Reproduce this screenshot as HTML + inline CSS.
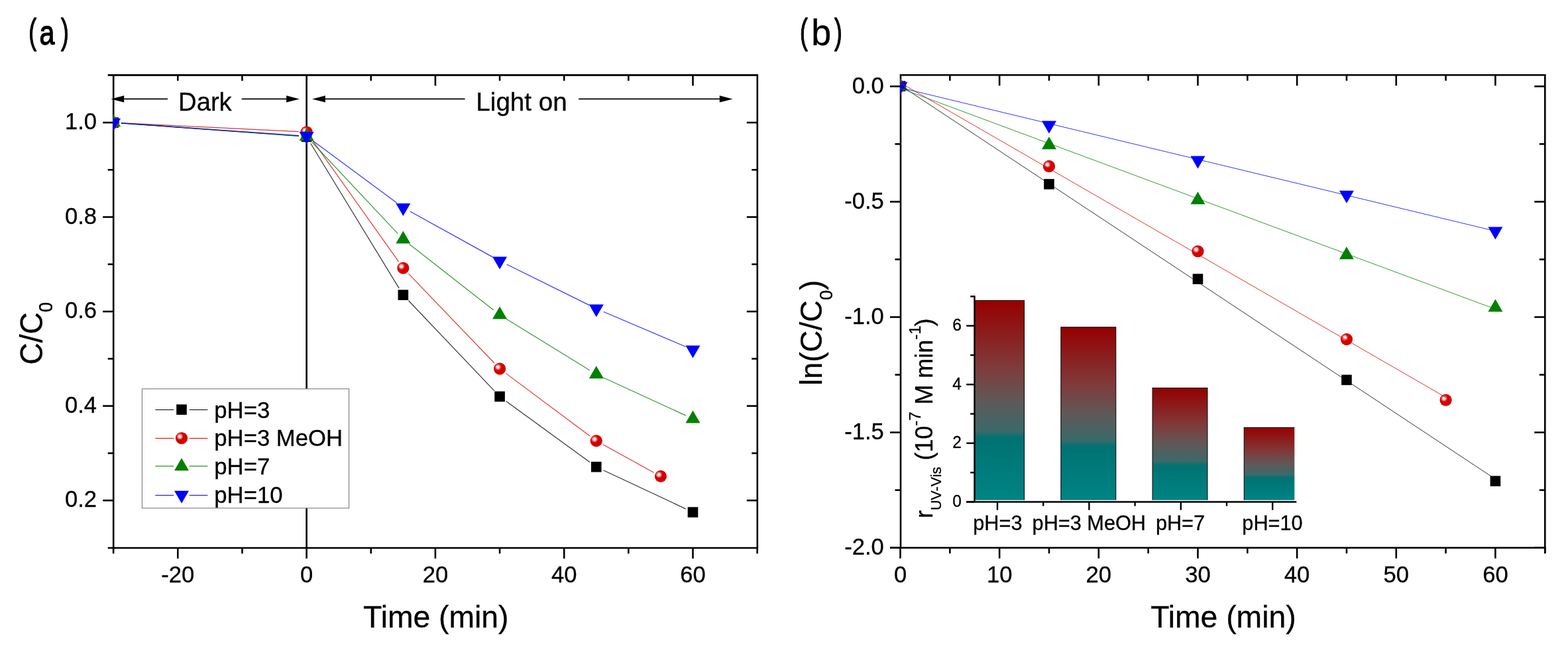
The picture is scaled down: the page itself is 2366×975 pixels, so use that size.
<!DOCTYPE html>
<html lang="en">
<head>
<meta charset="utf-8">
<title>Photocatalytic degradation kinetics at different pH</title>
<style>
html,body{margin:0;padding:0;background:#fff;}
body{width:2366px;height:975px;overflow:hidden;}
svg{display:block;}
svg text{font-family:"Liberation Sans", sans-serif;fill:#000;stroke:#000;stroke-width:0.3px;}
</style>
</head>
<body>
<svg width="2366" height="975" viewBox="0 0 2366 975">
<defs>
<radialGradient id="ball" cx="0.355" cy="0.36" r="0.29" fx="0.355" fy="0.36">
<stop offset="0" stop-color="#ffffff"/>
<stop offset="0.22" stop-color="#fff4f4"/>
<stop offset="0.6" stop-color="#ee8080"/>
<stop offset="1" stop-color="#d40000"/>
</radialGradient>
<linearGradient id="bar" x1="0" y1="0" x2="0" y2="1">
<stop offset="0" stop-color="#960000"/>
<stop offset="0.33" stop-color="#803a3a"/>
<stop offset="0.5" stop-color="#605858"/>
<stop offset="0.655" stop-color="#3a6a6a"/>
<stop offset="0.69" stop-color="#007272"/>
<stop offset="1" stop-color="#008484"/>
</linearGradient>
<clipPath id="clipA"><rect x="170.6" y="113.4" width="972.1999999999999" height="713.6"/></clipPath>
<clipPath id="clipB"><rect x="1358.4" y="113.3" width="972.9000000000002" height="713.5"/></clipPath>
<clipPath id="clipI"><rect x="1470.5" y="440" width="482.8" height="320"/></clipPath>
</defs>
<rect width="2366" height="975" fill="#fff"/>
<line x1="462.60" y1="113.40" x2="462.60" y2="827.00" stroke="#000" stroke-width="2.6" />
<line x1="171.20" y1="113.40" x2="171.20" y2="827.00" stroke="#000" stroke-width="2.6" />
<line x1="1142.80" y1="113.40" x2="1142.80" y2="827.00" stroke="#000" stroke-width="2.6" />
<line x1="162.70" y1="113.40" x2="1144.10" y2="113.40" stroke="#000" stroke-width="2.6" />
<line x1="162.70" y1="827.00" x2="1144.10" y2="827.00" stroke="#000" stroke-width="2.6" />
<line x1="171.15" y1="827.00" x2="171.15" y2="835.50" stroke="#000" stroke-width="2.6" />
<line x1="268.30" y1="827.00" x2="268.30" y2="843.00" stroke="#000" stroke-width="2.6" />
<text transform="translate(268.30,879.40) scale(1.0,1.04)" font-size="34.6" text-anchor="middle">-20</text>
<line x1="365.45" y1="827.00" x2="365.45" y2="835.50" stroke="#000" stroke-width="2.6" />
<line x1="462.60" y1="827.00" x2="462.60" y2="843.00" stroke="#000" stroke-width="2.6" />
<text transform="translate(462.60,879.40) scale(1.0,1.04)" font-size="34.6" text-anchor="middle">0</text>
<line x1="559.75" y1="827.00" x2="559.75" y2="835.50" stroke="#000" stroke-width="2.6" />
<line x1="656.90" y1="827.00" x2="656.90" y2="843.00" stroke="#000" stroke-width="2.6" />
<text transform="translate(656.90,879.40) scale(1.0,1.04)" font-size="34.6" text-anchor="middle">20</text>
<line x1="754.05" y1="827.00" x2="754.05" y2="835.50" stroke="#000" stroke-width="2.6" />
<line x1="851.20" y1="827.00" x2="851.20" y2="843.00" stroke="#000" stroke-width="2.6" />
<text transform="translate(851.20,879.40) scale(1.0,1.04)" font-size="34.6" text-anchor="middle">40</text>
<line x1="948.35" y1="827.00" x2="948.35" y2="835.50" stroke="#000" stroke-width="2.6" />
<line x1="1045.50" y1="827.00" x2="1045.50" y2="843.00" stroke="#000" stroke-width="2.6" />
<text transform="translate(1045.50,879.40) scale(1.0,1.04)" font-size="34.6" text-anchor="middle">60</text>
<line x1="1142.65" y1="827.00" x2="1142.65" y2="835.50" stroke="#000" stroke-width="2.6" />
<line x1="268.30" y1="113.40" x2="268.30" y2="121.90" stroke="#000" stroke-width="2.6" />
<line x1="365.45" y1="113.40" x2="365.45" y2="121.90" stroke="#000" stroke-width="2.6" />
<line x1="559.75" y1="113.40" x2="559.75" y2="121.90" stroke="#000" stroke-width="2.6" />
<line x1="656.90" y1="113.40" x2="656.90" y2="129.40" stroke="#000" stroke-width="2.6" />
<line x1="754.05" y1="113.40" x2="754.05" y2="121.90" stroke="#000" stroke-width="2.6" />
<line x1="851.20" y1="113.40" x2="851.20" y2="121.90" stroke="#000" stroke-width="2.6" />
<line x1="948.35" y1="113.40" x2="948.35" y2="121.90" stroke="#000" stroke-width="2.6" />
<line x1="1045.50" y1="113.40" x2="1045.50" y2="129.40" stroke="#000" stroke-width="2.6" />
<line x1="155.20" y1="755.30" x2="171.20" y2="755.30" stroke="#000" stroke-width="2.6" />
<line x1="1126.80" y1="755.30" x2="1142.80" y2="755.30" stroke="#000" stroke-width="2.6" />
<text transform="translate(146.00,765.30) scale(1.0,1.04)" font-size="34.6" text-anchor="end">0.2</text>
<line x1="162.70" y1="684.01" x2="171.20" y2="684.01" stroke="#000" stroke-width="2.6" />
<line x1="1134.30" y1="684.01" x2="1142.80" y2="684.01" stroke="#000" stroke-width="2.6" />
<line x1="155.20" y1="612.72" x2="171.20" y2="612.72" stroke="#000" stroke-width="2.6" />
<line x1="1126.80" y1="612.72" x2="1142.80" y2="612.72" stroke="#000" stroke-width="2.6" />
<text transform="translate(146.00,622.72) scale(1.0,1.04)" font-size="34.6" text-anchor="end">0.4</text>
<line x1="162.70" y1="541.44" x2="171.20" y2="541.44" stroke="#000" stroke-width="2.6" />
<line x1="1134.30" y1="541.44" x2="1142.80" y2="541.44" stroke="#000" stroke-width="2.6" />
<line x1="155.20" y1="470.15" x2="171.20" y2="470.15" stroke="#000" stroke-width="2.6" />
<line x1="1126.80" y1="470.15" x2="1142.80" y2="470.15" stroke="#000" stroke-width="2.6" />
<text transform="translate(146.00,480.15) scale(1.0,1.04)" font-size="34.6" text-anchor="end">0.6</text>
<line x1="162.70" y1="398.86" x2="171.20" y2="398.86" stroke="#000" stroke-width="2.6" />
<line x1="1134.30" y1="398.86" x2="1142.80" y2="398.86" stroke="#000" stroke-width="2.6" />
<line x1="155.20" y1="327.57" x2="171.20" y2="327.57" stroke="#000" stroke-width="2.6" />
<line x1="1126.80" y1="327.57" x2="1142.80" y2="327.57" stroke="#000" stroke-width="2.6" />
<text transform="translate(146.00,337.57) scale(1.0,1.04)" font-size="34.6" text-anchor="end">0.8</text>
<line x1="162.70" y1="256.29" x2="171.20" y2="256.29" stroke="#000" stroke-width="2.6" />
<line x1="1134.30" y1="256.29" x2="1142.80" y2="256.29" stroke="#000" stroke-width="2.6" />
<line x1="155.20" y1="185.00" x2="171.20" y2="185.00" stroke="#000" stroke-width="2.6" />
<line x1="1126.80" y1="185.00" x2="1142.80" y2="185.00" stroke="#000" stroke-width="2.6" />
<text transform="translate(146.00,195.00) scale(1.0,1.04)" font-size="34.6" text-anchor="end">1.0</text>
<g clip-path="url(#clipA)">
<line x1="182.92" y1="185.86" x2="450.83" y2="205.52" stroke="#000000" stroke-width="1.2" stroke-opacity="0.8"/>
<line x1="468.75" y1="216.46" x2="602.18" y2="435.13" stroke="#000000" stroke-width="1.2" stroke-opacity="0.8"/>
<line x1="616.46" y1="453.75" x2="745.92" y2="589.92" stroke="#000000" stroke-width="1.2" stroke-opacity="0.8"/>
<line x1="763.59" y1="605.42" x2="890.24" y2="697.74" stroke="#000000" stroke-width="1.2" stroke-opacity="0.8"/>
<line x1="910.46" y1="709.70" x2="1034.82" y2="768.11" stroke="#000000" stroke-width="1.2" stroke-opacity="0.8"/>
<line x1="182.94" y1="185.58" x2="450.81" y2="198.68" stroke="#d60000" stroke-width="1.2" stroke-opacity="0.8"/>
<line x1="469.43" y1="208.88" x2="601.50" y2="394.94" stroke="#d60000" stroke-width="1.2" stroke-opacity="0.8"/>
<line x1="616.49" y1="413.08" x2="745.88" y2="548.03" stroke="#d60000" stroke-width="1.2" stroke-opacity="0.8"/>
<line x1="763.51" y1="563.61" x2="890.32" y2="658.28" stroke="#d60000" stroke-width="1.2" stroke-opacity="0.8"/>
<line x1="910.11" y1="671.04" x2="986.59" y2="713.24" stroke="#d60000" stroke-width="1.2" stroke-opacity="0.8"/>
<line x1="182.92" y1="185.84" x2="450.83" y2="205.04" stroke="#008000" stroke-width="1.2" stroke-opacity="0.8"/>
<line x1="470.68" y1="214.49" x2="600.25" y2="352.55" stroke="#008000" stroke-width="1.2" stroke-opacity="0.8"/>
<line x1="617.62" y1="368.42" x2="744.76" y2="467.94" stroke="#008000" stroke-width="1.2" stroke-opacity="0.8"/>
<line x1="764.10" y1="481.40" x2="889.73" y2="558.84" stroke="#008000" stroke-width="1.2" stroke-opacity="0.8"/>
<line x1="910.50" y1="569.96" x2="1034.78" y2="627.11" stroke="#008000" stroke-width="1.2" stroke-opacity="0.8"/>
<line x1="182.92" y1="185.82" x2="450.83" y2="204.56" stroke="#0000ff" stroke-width="1.2" stroke-opacity="0.8"/>
<line x1="472.08" y1="212.41" x2="598.84" y2="306.29" stroke="#0000ff" stroke-width="1.2" stroke-opacity="0.8"/>
<line x1="618.65" y1="319.02" x2="743.72" y2="388.10" stroke="#0000ff" stroke-width="1.2" stroke-opacity="0.8"/>
<line x1="764.63" y1="399.03" x2="889.20" y2="460.64" stroke="#0000ff" stroke-width="1.2" stroke-opacity="0.8"/>
<line x1="910.63" y1="470.49" x2="1034.64" y2="523.27" stroke="#0000ff" stroke-width="1.2" stroke-opacity="0.8"/>
<rect x="163.35" y="177.20" width="15.6" height="15.6" fill="#000"/>
<rect x="454.80" y="198.59" width="15.6" height="15.6" fill="#000"/>
<rect x="600.53" y="437.40" width="15.6" height="15.6" fill="#000"/>
<rect x="746.25" y="590.67" width="15.6" height="15.6" fill="#000"/>
<rect x="891.98" y="696.89" width="15.6" height="15.6" fill="#000"/>
<rect x="1037.70" y="765.32" width="15.6" height="15.6" fill="#000"/>
<circle cx="171.15" cy="185.00" r="9.1" fill="url(#ball)"/>
<circle cx="462.60" cy="199.26" r="9.1" fill="url(#ball)"/>
<circle cx="608.33" cy="404.57" r="9.1" fill="url(#ball)"/>
<circle cx="754.05" cy="556.55" r="9.1" fill="url(#ball)"/>
<circle cx="899.78" cy="665.34" r="9.1" fill="url(#ball)"/>
<circle cx="996.93" cy="718.94" r="9.1" fill="url(#ball)"/>
<polygon points="171.15,172.33 182.15,191.33 160.15,191.33" fill="#008000"/>
<polygon points="462.60,193.22 473.60,212.22 451.60,212.22" fill="#008000"/>
<polygon points="608.33,348.48 619.33,367.48 597.33,367.48" fill="#008000"/>
<polygon points="754.05,462.54 765.05,481.54 743.05,481.54" fill="#008000"/>
<polygon points="899.78,552.37 910.78,571.37 888.78,571.37" fill="#008000"/>
<polygon points="1045.50,619.38 1056.50,638.38 1034.50,638.38" fill="#008000"/>
<polygon points="171.15,197.67 182.15,178.67 160.15,178.67" fill="#0000ff"/>
<polygon points="462.60,218.05 473.60,199.05 451.60,199.05" fill="#0000ff"/>
<polygon points="608.33,325.98 619.33,306.98 597.33,306.98" fill="#0000ff"/>
<polygon points="754.05,406.47 765.05,387.47 743.05,387.47" fill="#0000ff"/>
<polygon points="899.78,478.54 910.78,459.54 888.78,459.54" fill="#0000ff"/>
<polygon points="1045.50,540.56 1056.50,521.56 1034.50,521.56" fill="#0000ff"/>
</g>
<text transform="translate(64.2,550.4) rotate(-90) scale(1,1.06)" font-size="46">C/C<tspan dy="14.2" font-size="27.5">0</tspan></text>
<text transform="translate(657.80,947.30)" font-size="46.3" text-anchor="middle">Time (min)</text>
<text font-size="53.6" style="stroke-width:1.35px;stroke-linejoin:round"><tspan x="43.31" y="65.9" textLength="11.78" lengthAdjust="spacingAndGlyphs">(</tspan><tspan x="59.40" y="67.4" font-size="51.5" textLength="22.91" lengthAdjust="spacingAndGlyphs" style="stroke-width:1.4px">a</tspan><tspan x="92.01" y="65.9" textLength="11.78" lengthAdjust="spacingAndGlyphs">)</tspan></text>
<polygon points="167.40,149.40 187.20,144.20 187.20,154.60" fill="#000"/>
<line x1="186.20" y1="149.40" x2="253.00" y2="149.40" stroke="#000" stroke-width="1.8" />
<polygon points="451.90,149.40 432.10,144.20 432.10,154.60" fill="#000"/>
<line x1="433.10" y1="149.40" x2="364.70" y2="149.40" stroke="#000" stroke-width="1.8" />
<text transform="translate(309.40,166.80)" font-size="38.2" text-anchor="middle">Dark</text>
<polygon points="471.10,149.40 490.90,144.20 490.90,154.60" fill="#000"/>
<line x1="489.90" y1="149.40" x2="701.60" y2="149.40" stroke="#000" stroke-width="1.8" />
<polygon points="1105.60,149.40 1085.80,144.20 1085.80,154.60" fill="#000"/>
<line x1="1086.80" y1="149.40" x2="873.10" y2="149.40" stroke="#000" stroke-width="1.8" />
<text transform="translate(787.00,166.80)" font-size="38.6" text-anchor="middle">Light on</text>
<rect x="214.4" y="586.9" width="312.2" height="180" fill="#fff" stroke="#6e6e6e" stroke-width="1"/>
<line x1="234.30" y1="618.50" x2="262.30" y2="618.50" stroke="#000000" stroke-width="1" />
<line x1="285.60" y1="618.50" x2="313.40" y2="618.50" stroke="#000000" stroke-width="1" />
<rect x="266.20" y="610.40" width="15.6" height="15.6" fill="#000"/>
<text transform="translate(323.30,630.60) scale(1.0,1.035)" font-size="34.7" text-anchor="start">pH=3</text>
<line x1="234.30" y1="661.50" x2="262.30" y2="661.50" stroke="#d60000" stroke-width="1" />
<line x1="285.60" y1="661.50" x2="313.40" y2="661.50" stroke="#d60000" stroke-width="1" />
<circle cx="274.00" cy="661.30" r="9.1" fill="url(#ball)"/>
<text transform="translate(323.30,672.90) scale(1.0,1.035)" font-size="34.7" text-anchor="start">pH=3 MeOH</text>
<line x1="234.30" y1="703.50" x2="262.30" y2="703.50" stroke="#008000" stroke-width="1" />
<line x1="285.60" y1="703.50" x2="313.40" y2="703.50" stroke="#008000" stroke-width="1" />
<polygon points="274.00,691.23 285.00,710.23 263.00,710.23" fill="#008000"/>
<text transform="translate(323.30,716.00) scale(1.0,1.035)" font-size="34.7" text-anchor="start">pH=7</text>
<line x1="234.30" y1="747.50" x2="262.30" y2="747.50" stroke="#0000ff" stroke-width="1" />
<line x1="285.60" y1="747.50" x2="313.40" y2="747.50" stroke="#0000ff" stroke-width="1" />
<polygon points="274.00,759.87 285.00,740.87 263.00,740.87" fill="#0000ff"/>
<text transform="translate(323.30,758.50) scale(1.0,1.035)" font-size="34.7" text-anchor="start">pH=10</text>
<line x1="1359.00" y1="113.30" x2="1359.00" y2="826.80" stroke="#000" stroke-width="2.6" />
<line x1="2331.30" y1="113.30" x2="2331.30" y2="835.30" stroke="#000" stroke-width="2.6" />
<line x1="1357.70" y1="113.30" x2="2332.60" y2="113.30" stroke="#000" stroke-width="2.6" />
<line x1="1343.00" y1="826.80" x2="2332.60" y2="826.80" stroke="#000" stroke-width="2.6" />
<line x1="1358.50" y1="826.80" x2="1358.50" y2="842.80" stroke="#000" stroke-width="2.6" />
<text transform="translate(1358.50,879.40) scale(1.0,1.04)" font-size="34.6" text-anchor="middle">0</text>
<line x1="1433.33" y1="826.80" x2="1433.33" y2="835.30" stroke="#000" stroke-width="2.6" />
<line x1="1433.33" y1="113.30" x2="1433.33" y2="121.80" stroke="#000" stroke-width="2.6" />
<line x1="1508.15" y1="826.80" x2="1508.15" y2="842.80" stroke="#000" stroke-width="2.6" />
<line x1="1508.15" y1="113.30" x2="1508.15" y2="129.30" stroke="#000" stroke-width="2.6" />
<text transform="translate(1508.15,879.40) scale(1.0,1.04)" font-size="34.6" text-anchor="middle">10</text>
<line x1="1582.97" y1="826.80" x2="1582.97" y2="835.30" stroke="#000" stroke-width="2.6" />
<line x1="1582.97" y1="113.30" x2="1582.97" y2="121.80" stroke="#000" stroke-width="2.6" />
<line x1="1657.80" y1="826.80" x2="1657.80" y2="842.80" stroke="#000" stroke-width="2.6" />
<line x1="1657.80" y1="113.30" x2="1657.80" y2="129.30" stroke="#000" stroke-width="2.6" />
<text transform="translate(1657.80,879.40) scale(1.0,1.04)" font-size="34.6" text-anchor="middle">20</text>
<line x1="1732.62" y1="826.80" x2="1732.62" y2="835.30" stroke="#000" stroke-width="2.6" />
<line x1="1732.62" y1="113.30" x2="1732.62" y2="121.80" stroke="#000" stroke-width="2.6" />
<line x1="1807.45" y1="826.80" x2="1807.45" y2="842.80" stroke="#000" stroke-width="2.6" />
<line x1="1807.45" y1="113.30" x2="1807.45" y2="129.30" stroke="#000" stroke-width="2.6" />
<text transform="translate(1807.45,879.40) scale(1.0,1.04)" font-size="34.6" text-anchor="middle">30</text>
<line x1="1882.28" y1="826.80" x2="1882.28" y2="835.30" stroke="#000" stroke-width="2.6" />
<line x1="1882.28" y1="113.30" x2="1882.28" y2="121.80" stroke="#000" stroke-width="2.6" />
<line x1="1957.10" y1="826.80" x2="1957.10" y2="842.80" stroke="#000" stroke-width="2.6" />
<line x1="1957.10" y1="113.30" x2="1957.10" y2="129.30" stroke="#000" stroke-width="2.6" />
<text transform="translate(1957.10,879.40) scale(1.0,1.04)" font-size="34.6" text-anchor="middle">40</text>
<line x1="2031.93" y1="826.80" x2="2031.93" y2="835.30" stroke="#000" stroke-width="2.6" />
<line x1="2031.93" y1="113.30" x2="2031.93" y2="121.80" stroke="#000" stroke-width="2.6" />
<line x1="2106.75" y1="826.80" x2="2106.75" y2="842.80" stroke="#000" stroke-width="2.6" />
<line x1="2106.75" y1="113.30" x2="2106.75" y2="129.30" stroke="#000" stroke-width="2.6" />
<text transform="translate(2106.75,879.40) scale(1.0,1.04)" font-size="34.6" text-anchor="middle">50</text>
<line x1="2181.57" y1="826.80" x2="2181.57" y2="835.30" stroke="#000" stroke-width="2.6" />
<line x1="2181.57" y1="113.30" x2="2181.57" y2="121.80" stroke="#000" stroke-width="2.6" />
<line x1="2256.40" y1="826.80" x2="2256.40" y2="842.80" stroke="#000" stroke-width="2.6" />
<line x1="2256.40" y1="113.30" x2="2256.40" y2="129.30" stroke="#000" stroke-width="2.6" />
<text transform="translate(2256.40,879.40) scale(1.0,1.04)" font-size="34.6" text-anchor="middle">60</text>
<line x1="2331.23" y1="826.80" x2="2331.23" y2="835.30" stroke="#000" stroke-width="2.6" />
<line x1="1343.00" y1="130.35" x2="1359.00" y2="130.35" stroke="#000" stroke-width="2.6" />
<line x1="2315.30" y1="130.35" x2="2331.30" y2="130.35" stroke="#000" stroke-width="2.6" />
<text transform="translate(1333.80,140.65) scale(1.0,1.04)" font-size="34.6" text-anchor="end">0.0</text>
<line x1="1350.50" y1="217.40" x2="1359.00" y2="217.40" stroke="#000" stroke-width="2.6" />
<line x1="2322.80" y1="217.40" x2="2331.30" y2="217.40" stroke="#000" stroke-width="2.6" />
<line x1="1343.00" y1="304.45" x2="1359.00" y2="304.45" stroke="#000" stroke-width="2.6" />
<line x1="2315.30" y1="304.45" x2="2331.30" y2="304.45" stroke="#000" stroke-width="2.6" />
<text transform="translate(1333.80,314.75) scale(1.0,1.04)" font-size="34.6" text-anchor="end">-0.5</text>
<line x1="1350.50" y1="391.50" x2="1359.00" y2="391.50" stroke="#000" stroke-width="2.6" />
<line x1="2322.80" y1="391.50" x2="2331.30" y2="391.50" stroke="#000" stroke-width="2.6" />
<line x1="1343.00" y1="478.55" x2="1359.00" y2="478.55" stroke="#000" stroke-width="2.6" />
<line x1="2315.30" y1="478.55" x2="2331.30" y2="478.55" stroke="#000" stroke-width="2.6" />
<text transform="translate(1333.80,488.85) scale(1.0,1.04)" font-size="34.6" text-anchor="end">-1.0</text>
<line x1="1350.50" y1="565.60" x2="1359.00" y2="565.60" stroke="#000" stroke-width="2.6" />
<line x1="2322.80" y1="565.60" x2="2331.30" y2="565.60" stroke="#000" stroke-width="2.6" />
<line x1="1343.00" y1="652.65" x2="1359.00" y2="652.65" stroke="#000" stroke-width="2.6" />
<line x1="2315.30" y1="652.65" x2="2331.30" y2="652.65" stroke="#000" stroke-width="2.6" />
<text transform="translate(1333.80,662.95) scale(1.0,1.04)" font-size="34.6" text-anchor="end">-1.5</text>
<line x1="1350.50" y1="739.70" x2="1359.00" y2="739.70" stroke="#000" stroke-width="2.6" />
<line x1="2322.80" y1="739.70" x2="2331.30" y2="739.70" stroke="#000" stroke-width="2.6" />
<line x1="1343.00" y1="826.75" x2="1359.00" y2="826.75" stroke="#000" stroke-width="2.6" />
<line x1="2315.30" y1="826.75" x2="2331.30" y2="826.75" stroke="#000" stroke-width="2.6" />
<text transform="translate(1333.80,837.05) scale(1.0,1.04)" font-size="34.6" text-anchor="end">-2.0</text>
<g clip-path="url(#clipB)">
<rect x="1350.70" y="122.20" width="15.6" height="15.6" fill="#000"/>
<rect x="1575.17" y="270.15" width="15.6" height="15.6" fill="#000"/>
<rect x="1799.65" y="413.28" width="15.6" height="15.6" fill="#000"/>
<rect x="2024.13" y="565.62" width="15.6" height="15.6" fill="#000"/>
<rect x="2248.60" y="718.31" width="15.6" height="15.6" fill="#000"/>
<circle cx="1358.50" cy="130.00" r="9.1" fill="url(#ball)"/>
<circle cx="1582.97" cy="250.96" r="9.1" fill="url(#ball)"/>
<circle cx="1807.45" cy="379.25" r="9.1" fill="url(#ball)"/>
<circle cx="2031.93" cy="512.07" r="9.1" fill="url(#ball)"/>
<circle cx="2181.57" cy="603.75" r="9.1" fill="url(#ball)"/>
<polygon points="1358.50,117.33 1369.50,136.33 1347.50,136.33" fill="#008000"/>
<polygon points="1582.97,206.23 1593.97,225.23 1571.97,225.23" fill="#008000"/>
<polygon points="1807.45,289.30 1818.45,308.30 1796.45,308.30" fill="#008000"/>
<polygon points="2031.93,372.26 2042.93,391.26 2020.93,391.26" fill="#008000"/>
<polygon points="2256.40,451.50 2267.40,470.50 2245.40,470.50" fill="#008000"/>
<polygon points="1358.50,142.67 1369.50,123.67 1347.50,123.67" fill="#0000ff"/>
<polygon points="1582.97,201.58 1593.97,182.58 1571.97,182.58" fill="#0000ff"/>
<polygon points="1807.45,254.57 1818.45,235.57 1796.45,235.57" fill="#0000ff"/>
<polygon points="2031.93,306.86 2042.93,287.86 2020.93,287.86" fill="#0000ff"/>
<polygon points="2256.40,361.59 2267.40,342.59 2245.40,342.59" fill="#0000ff"/>
<line x1="1359.00" y1="129.00" x2="2256.40" y2="723.10" stroke="#000000" stroke-width="0.8" />
<line x1="1359.00" y1="125.30" x2="2181.80" y2="599.80" stroke="#d60000" stroke-width="0.8" />
<line x1="1359.00" y1="133.40" x2="2256.40" y2="466.50" stroke="#008000" stroke-width="0.8" />
<line x1="1359.00" y1="132.50" x2="2256.40" y2="348.80" stroke="#0000ff" stroke-width="0.8" />
</g>
<g clip-path="url(#clipI)">
<rect x="1462.70" y="453.52" width="82.8" height="301.28" fill="url(#bar)"/>
<polyline points="1462.70,754.80 1462.70,453.52 1545.50,453.52 1545.50,754.80" fill="none" stroke="#111" stroke-width="1.2"/>
<rect x="1600.90" y="493.83" width="82.8" height="260.97" fill="url(#bar)"/>
<polyline points="1600.90,754.80 1600.90,493.83 1683.70,493.83 1683.70,754.80" fill="none" stroke="#111" stroke-width="1.2"/>
<rect x="1739.10" y="585.53" width="82.8" height="169.27" fill="url(#bar)"/>
<polyline points="1739.10,754.80 1739.10,585.53 1821.90,585.53 1821.90,754.80" fill="none" stroke="#111" stroke-width="1.2"/>
<rect x="1877.30" y="645.33" width="82.8" height="109.47" fill="url(#bar)"/>
<polyline points="1877.30,754.80 1877.30,645.33 1960.10,645.33 1960.10,754.80" fill="none" stroke="#111" stroke-width="1.2"/>
</g>
<line x1="1470.50" y1="446.30" x2="1470.50" y2="757.50" stroke="#000" stroke-width="2.4" />
<line x1="1458.20" y1="757.50" x2="1956.30" y2="757.50" stroke="#000" stroke-width="2.4" />
<line x1="1458.20" y1="757.50" x2="1470.50" y2="757.50" stroke="#000" stroke-width="2.4" />
<text transform="translate(1450.80,764.70) scale(1.0,1.04)" font-size="24.5" text-anchor="end">0</text>
<line x1="1464.20" y1="713.20" x2="1470.50" y2="713.20" stroke="#000" stroke-width="2.4" />
<line x1="1458.20" y1="668.90" x2="1470.50" y2="668.90" stroke="#000" stroke-width="2.4" />
<text transform="translate(1450.80,676.10) scale(1.0,1.04)" font-size="24.5" text-anchor="end">2</text>
<line x1="1464.20" y1="624.60" x2="1470.50" y2="624.60" stroke="#000" stroke-width="2.4" />
<line x1="1458.20" y1="580.30" x2="1470.50" y2="580.30" stroke="#000" stroke-width="2.4" />
<text transform="translate(1450.80,587.50) scale(1.0,1.04)" font-size="24.5" text-anchor="end">4</text>
<line x1="1464.20" y1="536.00" x2="1470.50" y2="536.00" stroke="#000" stroke-width="2.4" />
<line x1="1458.20" y1="491.70" x2="1470.50" y2="491.70" stroke="#000" stroke-width="2.4" />
<text transform="translate(1450.80,498.90) scale(1.0,1.04)" font-size="24.5" text-anchor="end">6</text>
<line x1="1464.20" y1="447.40" x2="1470.50" y2="447.40" stroke="#000" stroke-width="2.4" />
<line x1="1505.00" y1="757.50" x2="1505.00" y2="769.80" stroke="#000" stroke-width="2.4" />
<line x1="1574.20" y1="757.50" x2="1574.20" y2="763.80" stroke="#000" stroke-width="2.4" />
<line x1="1643.40" y1="757.50" x2="1643.40" y2="769.80" stroke="#000" stroke-width="2.4" />
<line x1="1712.60" y1="757.50" x2="1712.60" y2="763.80" stroke="#000" stroke-width="2.4" />
<line x1="1781.80" y1="757.50" x2="1781.80" y2="769.80" stroke="#000" stroke-width="2.4" />
<line x1="1851.00" y1="757.50" x2="1851.00" y2="763.80" stroke="#000" stroke-width="2.4" />
<line x1="1920.20" y1="757.50" x2="1920.20" y2="769.80" stroke="#000" stroke-width="2.4" />
<text transform="translate(1505.40,800.30) scale(1.0,1.03)" font-size="30.7" text-anchor="middle">pH=3</text>
<text transform="translate(1643.30,800.30) scale(1.0,1.03)" font-size="30.7" text-anchor="middle">pH=3 MeOH</text>
<text transform="translate(1781.00,800.30) scale(1.0,1.03)" font-size="30.7" text-anchor="middle">pH=7</text>
<text transform="translate(1920.00,800.30) scale(1.0,1.03)" font-size="30.7" text-anchor="middle">pH=10</text>
<text transform="translate(1407,782.3) rotate(-90) scale(1,1.03)" font-size="36">r<tspan dy="12.5" font-size="21.6">UV-Vis</tspan><tspan dy="-12.5"> (10</tspan><tspan dy="-17.5" font-size="24">-7</tspan><tspan dy="17.5" dx="0.6"> M min</tspan><tspan dy="-17.5" font-size="24">-1</tspan><tspan dy="17.5" dx="-1">)</tspan></text>
<text transform="translate(1239.8,582) rotate(-90)" font-size="45.5">ln(C/C<tspan dy="16" font-size="27.5">0</tspan><tspan dy="-16">)</tspan></text>
<text transform="translate(1845.90,947.20)" font-size="46.3" text-anchor="middle">Time (min)</text>
<text font-size="53.6" style="stroke-width:1.35px;stroke-linejoin:round"><tspan x="1207.11" y="65.9" textLength="11.78" lengthAdjust="spacingAndGlyphs">(</tspan><tspan x="1224.30" y="67.6" font-size="55.6" textLength="29.99" lengthAdjust="spacingAndGlyphs" style="stroke-width:0.35px">b</tspan><tspan x="1259.01" y="65.9" textLength="11.78" lengthAdjust="spacingAndGlyphs">)</tspan></text>
</svg>
</body>
</html>
